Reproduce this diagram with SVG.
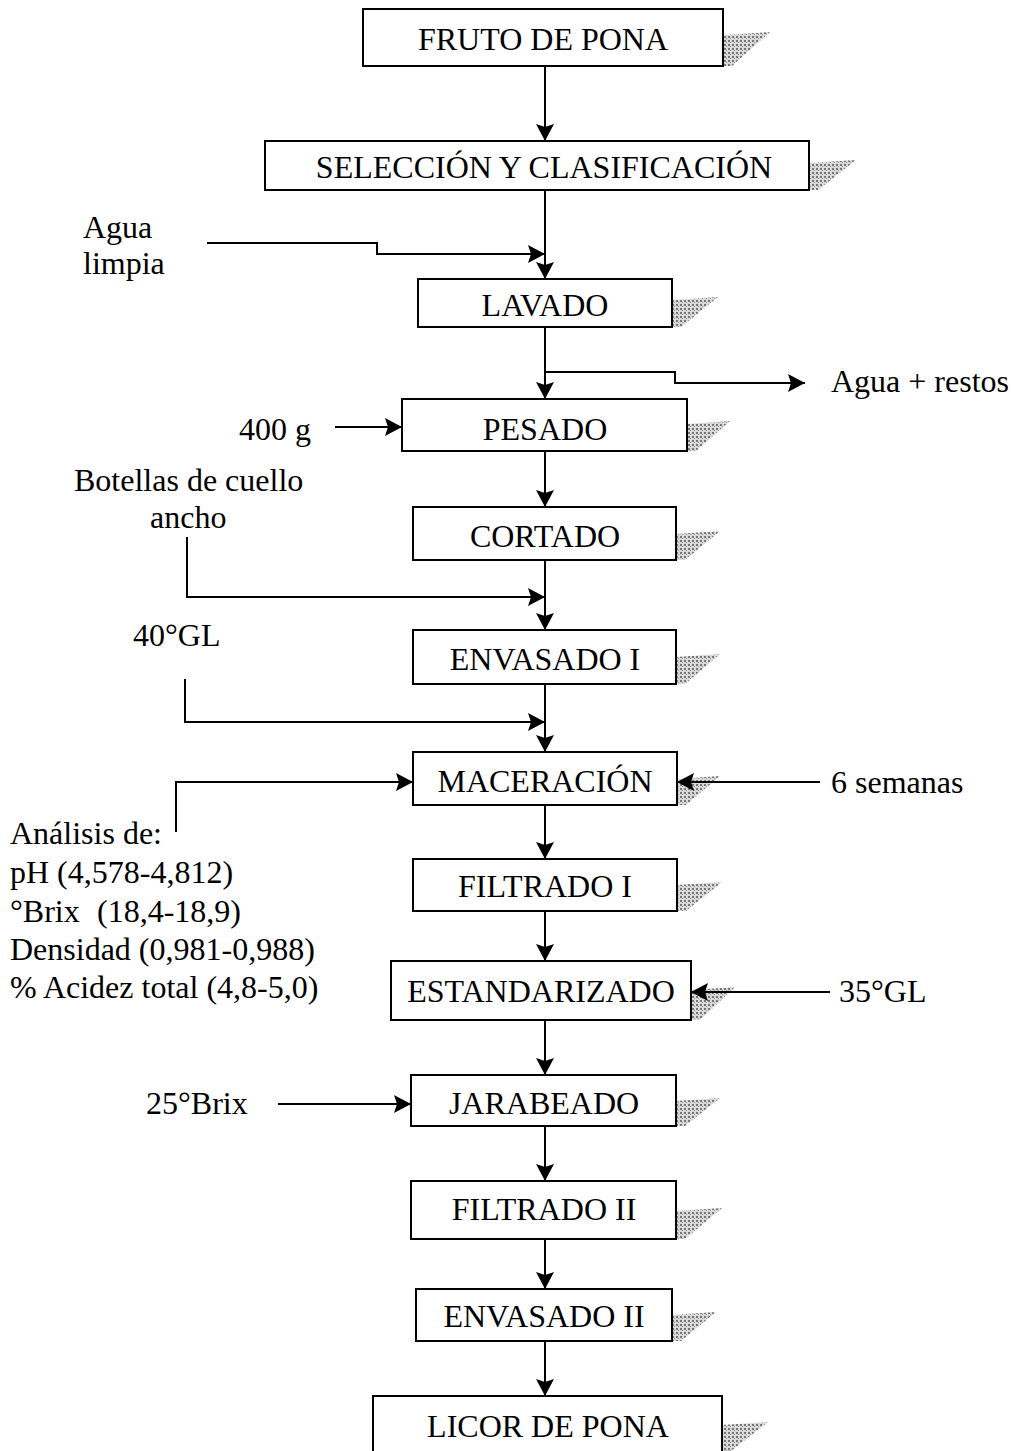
<svg xmlns="http://www.w3.org/2000/svg" width="1014" height="1451" viewBox="0 0 1014 1451">
<style>
.box{fill:#fff;stroke:#000;stroke-width:2}
.sh{fill:url(#dots);stroke:none}
.t{font-family:"Liberation Serif","Times New Roman",serif;font-size:32px;fill:#000}
.c{stroke:#000;stroke-width:2;fill:none}
</style>
<defs>
<pattern id="dots" width="4" height="4" patternUnits="userSpaceOnUse">
<rect width="4" height="4" fill="#d8d8d8"/>
<rect x="0" y="0" width="2" height="2" fill="#777"/>
<rect x="2" y="2" width="1" height="1" fill="#999"/>
</pattern>
<marker id="ah" viewBox="0 0 17 18" refX="17" refY="9" markerWidth="17" markerHeight="18" markerUnits="userSpaceOnUse" orient="auto">
<path d="M0,0 L17,9 L0,18 L3,9 Z" fill="#000"/>
</marker>
</defs>

<g id="n-fruto">
<polygon class="sh" points="723,35 770,32 732,66 723,66"/>
<rect class="box" x="363" y="9" width="360" height="57"/>
<text class="t" x="543" y="50" text-anchor="middle">FRUTO DE PONA</text>
</g>
<g id="n-seleccion">
<polygon class="sh" points="809,163 856,160 818,190 809,190"/>
<rect class="box" x="265" y="141" width="544" height="49"/>
<text class="t" x="544" y="178" text-anchor="middle">SELECCIÓN Y CLASIFICACIÓN</text>
</g>
<g id="n-lavado">
<polygon class="sh" points="672,300 718,297 681,327 672,327"/>
<rect class="box" x="418" y="279" width="254" height="48"/>
<text class="t" x="545" y="316" text-anchor="middle">LAVADO</text>
</g>
<g id="n-pesado">
<polygon class="sh" points="687,424 730,421 696,451 687,451"/>
<rect class="box" x="402" y="399" width="285" height="52"/>
<text class="t" x="545" y="440" text-anchor="middle">PESADO</text>
</g>
<g id="n-cortado">
<polygon class="sh" points="676,534 720,531 685,560 676,560"/>
<rect class="box" x="413" y="507" width="263" height="53"/>
<text class="t" x="545" y="547" text-anchor="middle">CORTADO</text>
</g>
<g id="n-envasado1">
<polygon class="sh" points="676,657 720,654 685,684 676,684"/>
<rect class="box" x="413" y="630" width="263" height="54"/>
<text class="t" x="545" y="670" text-anchor="middle">ENVASADO I</text>
</g>
<g id="n-maceracion">
<polygon class="sh" points="677,779 720,776 686,805 677,805"/>
<rect class="box" x="413" y="752" width="264" height="53"/>
<text class="t" x="545" y="792" text-anchor="middle">MACERACIÓN</text>
</g>
<g id="n-filtrado1">
<polygon class="sh" points="677,885 722,882 686,911 677,911"/>
<rect class="box" x="413" y="859" width="264" height="52"/>
<text class="t" x="545" y="897" text-anchor="middle">FILTRADO I</text>
</g>
<g id="n-estandarizado">
<polygon class="sh" points="691,990 735,987 700,1020 691,1020"/>
<rect class="box" x="391" y="961" width="300" height="59"/>
<text class="t" x="541" y="1002" text-anchor="middle">ESTANDARIZADO</text>
</g>
<g id="n-jarabeado">
<polygon class="sh" points="676,1101 720,1098 685,1126 676,1126"/>
<rect class="box" x="411" y="1075" width="265" height="51"/>
<text class="t" x="544" y="1114" text-anchor="middle">JARABEADO</text>
</g>
<g id="n-filtrado2">
<polygon class="sh" points="676,1211 722,1208 685,1239 676,1239"/>
<rect class="box" x="411" y="1181" width="265" height="58"/>
<text class="t" x="544" y="1220" text-anchor="middle">FILTRADO II</text>
</g>
<g id="n-envasado2">
<polygon class="sh" points="672,1315 716,1312 681,1341 672,1341"/>
<rect class="box" x="416" y="1289" width="256" height="52"/>
<text class="t" x="544" y="1327" text-anchor="middle">ENVASADO II</text>
</g>
<g id="n-licor">
<polygon class="sh" points="722,1425 768,1422 731,1451 722,1451"/>
<rect class="box" x="373" y="1396" width="349" height="60"/>
<text class="t" x="548" y="1437" text-anchor="middle">LICOR DE PONA</text>
</g>

<g id="connectors">
<path class="c" d="M545,66 V141" marker-end="url(#ah)"/>
<path class="c" d="M545,190 V279" marker-end="url(#ah)"/>
<path class="c" d="M207,243 H377 V254 H545" marker-end="url(#ah)"/>
<path class="c" d="M545,327 V399" marker-end="url(#ah)"/>
<path class="c" d="M545,372 H675 V383 H805" marker-end="url(#ah)"/>
<path class="c" d="M335,427 H402" marker-end="url(#ah)"/>
<path class="c" d="M545,451 V507" marker-end="url(#ah)"/>
<path class="c" d="M187,537 V597 H545" marker-end="url(#ah)"/>
<path class="c" d="M545,560 V630" marker-end="url(#ah)"/>
<path class="c" d="M185,679 V722 H545" marker-end="url(#ah)"/>
<path class="c" d="M545,684 V752" marker-end="url(#ah)"/>
<path class="c" d="M176,832 V782 H413" marker-end="url(#ah)"/>
<path class="c" d="M820,782 H677" marker-end="url(#ah)"/>
<path class="c" d="M545,805 V859" marker-end="url(#ah)"/>
<path class="c" d="M545,911 V961" marker-end="url(#ah)"/>
<path class="c" d="M830,992 H691" marker-end="url(#ah)"/>
<path class="c" d="M545,1020 V1075" marker-end="url(#ah)"/>
<path class="c" d="M278,1104 H411" marker-end="url(#ah)"/>
<path class="c" d="M545,1126 V1181" marker-end="url(#ah)"/>
<path class="c" d="M545,1239 V1289" marker-end="url(#ah)"/>
<path class="c" d="M545,1341 V1396" marker-end="url(#ah)"/>
</g>

<g id="labels">
<text class="t" x="83" y="238">Agua</text>
<text class="t" x="83" y="274">limpia</text>
<text class="t" x="831" y="392">Agua + restos</text>
<text class="t" x="239" y="440">400 g</text>
<text class="t" x="74" y="491">Botellas de cuello</text>
<text class="t" x="150" y="528">ancho</text>
<text class="t" x="133" y="646">40°GL</text>
<text class="t" x="831" y="793">6 semanas</text>
<text class="t" x="10" y="844">Análisis de:</text>
<text class="t" x="10" y="883">pH (4,578-4,812)</text>
<text class="t" x="10" y="922">°Brix</text>
<text class="t" x="97" y="922">(18,4-18,9)</text>
<text class="t" x="10" y="960">Densidad (0,981-0,988)</text>
<text class="t" x="10" y="998">% Acidez total (4,8-5,0)</text>
<text class="t" x="839" y="1002">35°GL</text>
<text class="t" x="146" y="1114">25°Brix</text>
</g>
</svg>
